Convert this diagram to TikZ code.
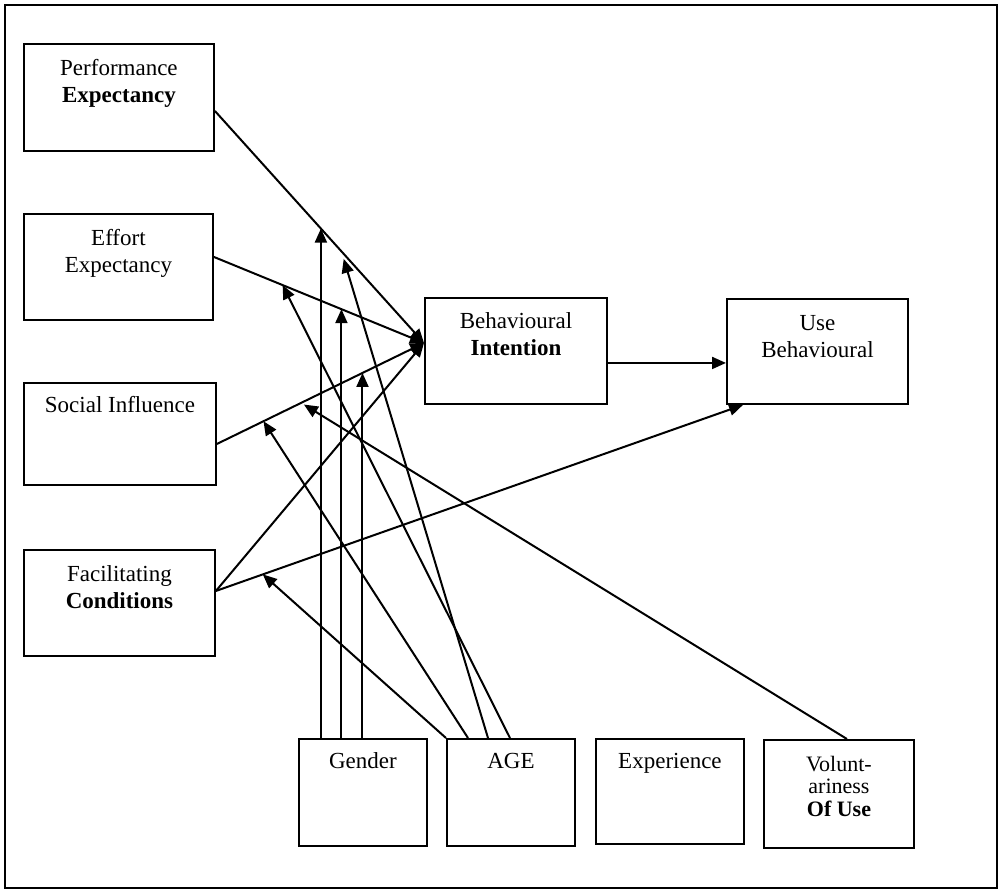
\documentclass[tikz,border=0pt]{standalone}
\usepackage{fontspec}
\setmainfont{Liberation Serif}
\usetikzlibrary{arrows.meta,calc}
% stacked, centred lines whose baseline is the first line
\newcommand\linesof[1]{\begin{tabular}[t]{@{}c@{}}#1\end{tabular}}
\begin{document}
\begin{tikzpicture}[x=1pt,y=-1pt,
  boxnode/.style={draw, line width=1.9pt, inner sep=0pt, anchor=north west},
  caption/.style={anchor=base, inner sep=0pt, font=\fontsize{23}{27}\selectfont},
  link/.style={line width=2pt, -{Triangle[length=14pt,width=12pt]}},
  ]
\useasboundingbox (0,0) rectangle (998,889);
\node[draw, line width=1.8pt, inner sep=0pt, anchor=north west,
      minimum width=992pt, minimum height=883pt] (frame) at (4,4) {};

% constructs on the left
\node[boxnode, minimum width=190pt, minimum height=107pt] (pe) at (23,43) {};
\node[boxnode, minimum width=189pt, minimum height=106pt] (ee) at (23,213) {};
\node[boxnode, minimum width=192pt, minimum height=102pt] (si) at (23,382) {};
\node[boxnode, minimum width=191pt, minimum height=106pt] (fc) at (23,549) {};
% intention and use
\node[boxnode, minimum width=182pt, minimum height=106pt] (bi) at (424,297) {};
\node[boxnode, minimum width=181pt, minimum height=105pt] (ub) at (726,298) {};
% moderators
\node[boxnode, minimum width=128pt, minimum height=107pt] (gd) at (298,738) {};
\node[boxnode, minimum width=128pt, minimum height=107pt] (ag) at (446,738) {};
\node[boxnode, minimum width=148pt, minimum height=105pt] (ex) at (595,738) {};
\node[boxnode, minimum width=150pt, minimum height=108pt] (vu) at (763,739) {};

% box captions
\node[caption] (pe-t) at ($(pe.north)+(0,32)$) {\linesof{Performance\\\textbf{Expectancy}}};
\node[caption] (ee-t) at ($(ee.north)+(0,32)$) {\linesof{Effort\\Expectancy}};
\node[caption] (si-t) at ($(si.north)+(0,30)$) {Social Influence};
\node[caption] (fc-t) at ($(fc.north)+(0,32)$) {\linesof{Facilitating\\\textbf{Conditions}}};
\node[caption] (bi-t) at ($(bi.north)+(0,31)$) {\linesof{Behavioural\\\textbf{Intention}}};
\node[caption] (ub-t) at ($(ub.north)+(0,32)$) {\linesof{Use\\Behavioural}};
\node[caption] (gd-t) at ($(gd.north)+(0,30)$) {Gender};
\node[caption] (ag-t) at ($(ag.north)+(0,30)$) {AGE};
\node[caption] (ex-t) at ($(ex.north)+(0,30)$) {Experience};
\node[caption, font=\fontsize{22}{22.5}\selectfont] (vu-t) at ($(vu.north)+(0,32)$)
  {\linesof{Volunt-\\ariness\\\textbf{Of Use}}};

% end points of the main paths
\coordinate (bin) at ($(bi.west)+(0,-8)$);
\coordinate (pes) at ($(pe.east)+(0,13.5)$);
\coordinate (ees) at ($(ee.east)+(0,-10)$);
\coordinate (sis) at ($(si.east)+(0,10)$);
\coordinate (fcs) at ($(fc.east)+(0,-12)$);
\coordinate (ubin) at ($(ub.south west)+(17,0)$);
\coordinate (bio) at ($(bi.east)+(0,12)$);

% main paths
\draw[link] (pes) -- (bin);
\draw[link] (ees) -- (bin);
\draw[link] (sis) -- (bin);
\draw[link] (fcs) -- (bin);
\draw[link] (fcs) -- (ubin);
\draw[link] (bio) -- (bio -| ub.west);

% points where the moderators meet the paths
\coordinate (m1) at ($(pes)!0.507!(bin)$);
\coordinate (m2) at ($(ees)!0.607!(bin)$);
\coordinate (m3) at ($(sis)!0.703!(bin)$);
\coordinate (m4) at ($(fcs)!0.089!(ubin)$);
\coordinate (m5) at ($(sis)!0.225!(bin)$);
\coordinate (m6) at ($(pes)!0.616!(bin)+(0,5)$);
\coordinate (m7) at ($(ees)!0.327!(bin)$);
\coordinate (m8) at ($(sis)!0.42!(bin)+(0,3)$);

% gender
\draw[link] (m1 |- gd.north) -- (m1);
\draw[link] (m2 |- gd.north) -- (m2);
\draw[link] (m3 |- gd.north) -- (m3);
% age
\draw[link] (ag.north west) -- (m4);
\draw[link] ($(ag.north west)+(22,0)$) -- (m5);
\draw[link] ($(ag.north west)+(42,0)$) -- (m6);
\draw[link] ($(ag.north west)+(64,0)$) -- (m7);
% voluntariness of use
\draw[link] ($(vu.north)+(8,0)$) -- (m8);
\end{tikzpicture}
\end{document}
